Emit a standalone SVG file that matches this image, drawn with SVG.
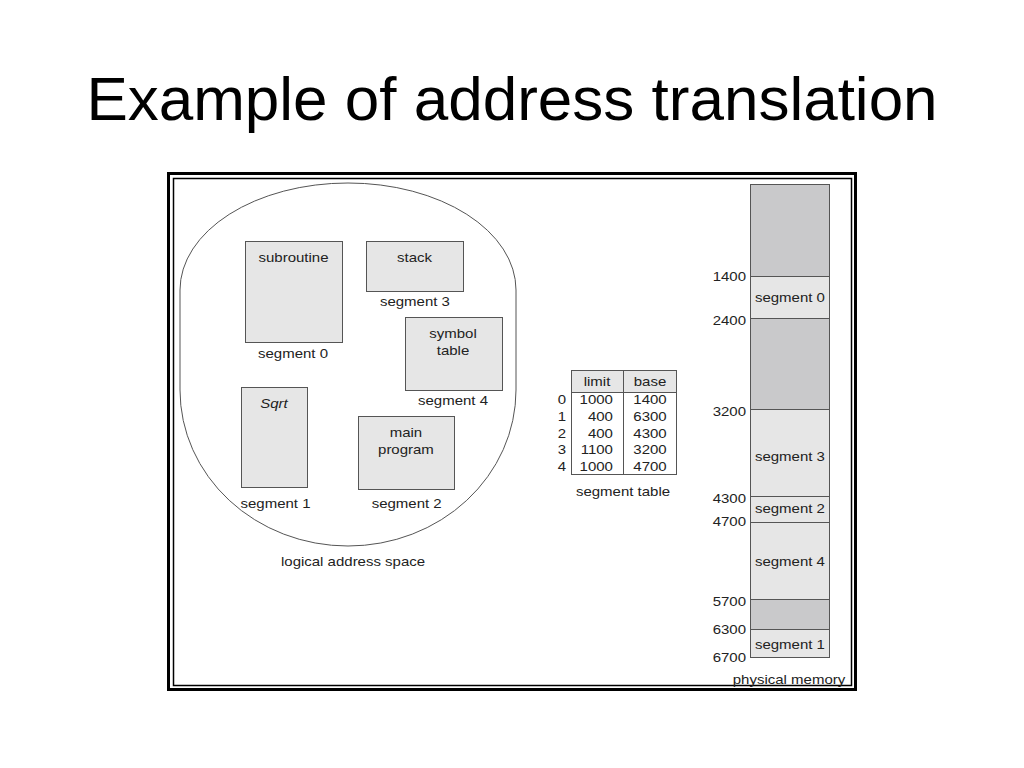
<svg xmlns="http://www.w3.org/2000/svg" width="1024" height="768" viewBox="0 0 1024 768">
<style>
text{font-family:"Liberation Sans",Arial,sans-serif;font-size:12.5px;fill:#222}
.c{text-anchor:middle}
.e{text-anchor:end}
.title{font-size:62px;fill:#000}
.box{fill:#e6e6e6;stroke:#555;stroke-width:1}
.dark{fill:#c9c9cb;stroke:#555;stroke-width:1}
.light{fill:#e6e6e6;stroke:#555;stroke-width:1}
.ln{stroke:#555;stroke-width:1;fill:none}
</style>
<rect width="1024" height="768" fill="#fff"/>
<text class="title c" x="512" y="120">Example of address translation</text>
<g id="frame">
<rect x="168.5" y="173.5" width="687" height="516" fill="#fff" stroke="#000" stroke-width="3"/>
<rect x="173.5" y="178.5" width="678" height="507" fill="none" stroke="#000" stroke-width="1.5"/>
</g>
<g id="logical-space">
<path class="ln" d="M180,290 A168,107 0 0 1 516,290 L516,390 A168,156 0 0 1 180,390 Z" stroke="#666"/>
<g transform="scale(1.2,1)"><text class="c" x="294.2" y="566">logical address space</text></g>
</g>
<g id="seg0-subroutine">
<rect class="box" x="245.5" y="241.5" width="97" height="101"/>
<g transform="scale(1.2,1)"><text class="c" x="244.6" y="262">subroutine</text><text class="c" x="244.2" y="358">segment 0</text></g>
</g>
<g id="seg3-stack">
<rect class="box" x="366.5" y="241.5" width="97" height="50"/>
<g transform="scale(1.2,1)"><text class="c" x="345.4" y="262">stack</text><text class="c" x="345.8" y="306">segment 3</text></g>
</g>
<g id="seg4-symbol-table">
<rect class="box" x="405.5" y="317.5" width="97" height="73"/>
<g transform="scale(1.2,1)"><text class="c" x="377.5" y="338">symbol</text><text class="c" x="377.5" y="355">table</text><text class="c" x="377.5" y="405">segment 4</text></g>
</g>
<g id="seg1-sqrt">
<rect class="box" x="241.5" y="387.5" width="66" height="100"/>
<g transform="scale(1.2,1)"><text class="c" x="228.3" y="408" font-style="italic">Sqrt</text><text class="c" x="229.6" y="508">segment 1</text></g>
</g>
<g id="seg2-main">
<rect class="box" x="358.5" y="416.5" width="96" height="73"/>
<g transform="scale(1.2,1)"><text class="c" x="338.3" y="437.5">main</text><text class="c" x="338.3" y="454.5">program</text><text class="c" x="338.9" y="508">segment 2</text></g>
</g>
<g id="segment-table">
<rect x="571.5" y="370.5" width="105" height="22" fill="#e6e6e6"/>
<rect class="ln" x="571.5" y="370.5" width="105" height="104"/>
<line class="ln" x1="571.5" y1="392.5" x2="676.5" y2="392.5"/>
<line class="ln" x1="623.5" y1="370.5" x2="623.5" y2="474.5"/>
<g transform="scale(1.2,1)">
<text class="c" x="497.5" y="386.5">limit</text><text class="c" x="541.7" y="386.5">base</text>
<text class="c" x="468.3" y="404.5">0</text><text class="e" x="510.8" y="404.5">1000</text><text class="c" x="541.7" y="404.5">1400</text>
<text class="c" x="468.3" y="421.5">1</text><text class="e" x="510.8" y="421.5">400</text><text class="c" x="541.7" y="421.5">6300</text>
<text class="c" x="468.3" y="438.5">2</text><text class="e" x="510.8" y="438.5">400</text><text class="c" x="541.7" y="438.5">4300</text>
<text class="c" x="468.3" y="454.5">3</text><text class="e" x="510.8" y="454.5">1100</text><text class="c" x="541.7" y="454.5">3200</text>
<text class="c" x="468.3" y="471.5">4</text><text class="e" x="510.8" y="471.5">1000</text><text class="c" x="541.7" y="471.5">4700</text>
<text class="c" x="519.2" y="496.5">segment table</text>
</g>
</g>
<g id="physical-memory">
<rect class="dark" x="750.5" y="184.5" width="79" height="92"/>
<rect class="light" x="750.5" y="276.5" width="79" height="42"/>
<rect class="dark" x="750.5" y="318.5" width="79" height="91"/>
<rect class="light" x="750.5" y="409.5" width="79" height="87"/>
<rect class="light" x="750.5" y="496.5" width="79" height="26"/>
<rect class="light" x="750.5" y="522.5" width="79" height="77"/>
<rect class="dark" x="750.5" y="599.5" width="79" height="30"/>
<rect class="light" x="750.5" y="629.5" width="79" height="28"/>
<g transform="scale(1.2,1)">
<text class="e" x="621.7" y="281">1400</text>
<text class="e" x="621.7" y="325.5">2400</text>
<text class="e" x="621.7" y="416">3200</text>
<text class="e" x="621.7" y="503">4300</text>
<text class="e" x="621.7" y="526">4700</text>
<text class="e" x="621.7" y="606">5700</text>
<text class="e" x="621.7" y="634.5">6300</text>
<text class="e" x="621.7" y="662">6700</text>
<text class="c" x="658.3" y="302.5">segment 0</text>
<text class="c" x="658.3" y="461.5">segment 3</text>
<text class="c" x="658.3" y="513.5">segment 2</text>
<text class="c" x="658.3" y="566.5">segment 4</text>
<text class="c" x="658.3" y="649.5">segment 1</text>
<text class="c" x="657.5" y="684">physical memory</text>
</g>
</g>
</svg>
